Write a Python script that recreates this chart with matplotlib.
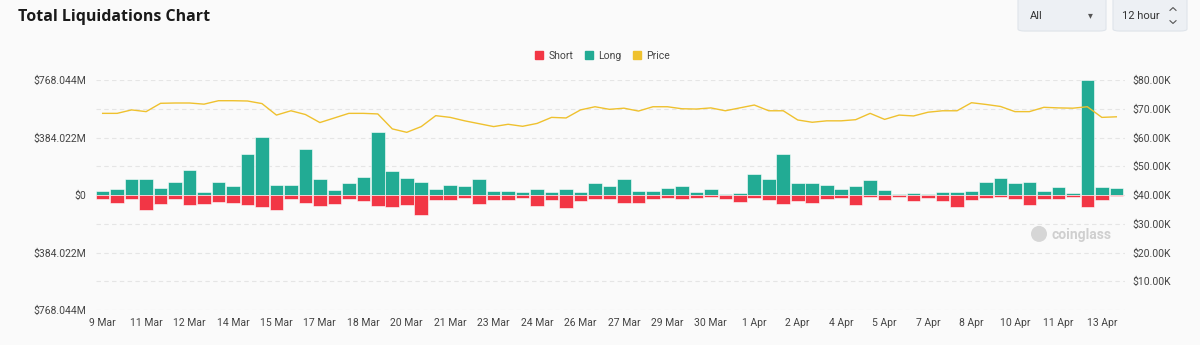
import matplotlib.pyplot as plt
from matplotlib.patches import Patch, FancyBboxPatch, Circle
from matplotlib.lines import Line2D
import numpy as np

plt.rcParams['text.parse_math'] = False
plt.rcParams['font.family'] = ['Roboto', 'DejaVu Sans']

# 12-hour buckets, 9 Mar -> 13 Apr
tick_labels = ['9 Mar', '11 Mar', '12 Mar', '14 Mar', '15 Mar', '17 Mar', '18 Mar', '20 Mar',
               '21 Mar', '23 Mar', '24 Mar', '26 Mar', '27 Mar', '29 Mar', '30 Mar', '1 Apr',
               '2 Apr', '4 Apr', '5 Apr', '7 Apr', '8 Apr', '10 Apr', '11 Apr', '13 Apr']

# liquidations in $M
long_liq = [26, 42, 104, 110, 49, 88, 166, 20, 86, 60,
            276, 387, 68, 64, 309, 108, 31, 77, 117, 418,
            161, 113, 88, 38, 68, 60, 108, 26, 26, 20,
            38, 22, 42, 22, 80, 57, 106, 29, 29, 46,
            57, 20, 42, 9, 15, 141, 110, 274, 80, 77,
            68, 38, 62, 99, 33, 9, 11, 9, 22, 22,
            29, 88, 115, 77, 84, 26, 51, 15, 768, 55,
            46]
short_liq = [24, 55, 24, 102, 62, 29, 68, 62, 44, 53,
             66, 80, 97, 29, 53, 75, 57, 29, 42, 71,
             80, 66, 133, 35, 35, 22, 57, 35, 31, 22,
             71, 31, 88, 40, 29, 24, 51, 51, 29, 18,
             24, 22, 13, 29, 46, 18, 35, 57, 40, 53,
             27, 22, 68, 15, 35, 13, 38, 22, 40, 80,
             35, 18, 15, 29, 68, 24, 24, 13, 80, 35,
             7]
# BTC price in $K
price = [68.4, 68.4, 69.6, 69.0, 71.9, 72.0, 72.0, 71.6, 72.8, 72.8,
         72.7, 71.8, 67.8, 69.3, 68.0, 65.2, 66.8, 68.4, 68.4, 68.2,
         63.0, 61.8, 63.8, 67.6, 67.0, 65.8, 64.8, 63.8, 64.6, 63.9,
         64.9, 67.0, 66.8, 69.6, 70.7, 69.8, 70.2, 69.2, 70.7, 70.7,
         70.0, 69.9, 70.3, 69.3, 70.3, 71.3, 69.3, 69.3, 66.1, 65.3,
         65.8, 65.8, 66.2, 68.4, 66.3, 67.8, 67.5, 68.8, 69.3, 69.3,
         72.1, 71.5, 70.8, 69.0, 69.0, 70.5, 70.3, 70.2, 70.7, 67.0,
         67.2]

BG = '#fafafa'
TEAL = '#22ab94'
RED = '#f23645'
GOLD = '#efc12e'
TXT = '#444444'
YMAX = 768.044

fig = plt.figure(figsize=(12, 3.45), dpi=100, facecolor=BG)
ax = fig.add_axes([0.08, 0.1014, 0.8575, 0.6667])
ax.set_facecolor(BG)

x = np.arange(len(long_liq))
ax.bar(x, long_liq, width=0.94, color=TEAL, edgecolor='white', linewidth=0.4, zorder=2)
ax.bar(x, -np.array(short_liq), width=0.94, color=RED, edgecolor='white', linewidth=0.4, zorder=2)

ax.set_xlim(-0.46, 70.6)
ax.set_ylim(-YMAX, YMAX)
ax.set_xticks(x[::3])
ax.set_xticklabels(tick_labels)
ax.set_yticks([-YMAX, -YMAX / 2, 0, YMAX / 2, YMAX])
ax.set_yticklabels(['$768.044M', '$384.022M', '$0', '$384.022M', '$768.044M'])
ax.set_yticks([-YMAX * 0.75, -YMAX * 0.25, YMAX * 0.25, YMAX * 0.75], minor=True)
ax.grid(True, axis='y', which='both', color='#e5e5e5', linestyle=(0, (4, 3)), linewidth=0.8, zorder=0)
ax.tick_params(axis='both', which='both', length=0, labelsize=7.5, labelcolor=TXT)
ax.tick_params(axis='x', pad=6)
ax.tick_params(axis='y', pad=7)
for s in ax.spines.values():
    s.set_visible(False)

ax2 = ax.twinx()
ax2.plot(x, price, color=GOLD, linewidth=1.0, zorder=3)
ax2.set_ylim(0, 80)
ax2.set_yticks(np.arange(10, 81, 10))
ax2.set_yticklabels([f'${v:.2f}K' for v in np.arange(10, 81, 10)])
ax2.tick_params(axis='y', length=0, labelsize=7.5, labelcolor=TXT, pad=5)
for s in ax2.spines.values():
    s.set_visible(False)

# legend
handles = [Patch(color=RED, label='Short'), Patch(color=TEAL, label='Long'), Patch(color=GOLD, label='Price')]
fig.legend(handles=handles, loc='center', bbox_to_anchor=(0.502, 0.838), ncol=3, frameon=False,
           fontsize=7.5, handlelength=0.8, handleheight=0.8, handletextpad=0.5, columnspacing=1.1,
           labelcolor=TXT)

# title
fig.text(0.015, 0.951, 'Total Liquidations Chart', fontsize=11.5, fontweight='bold',
         color='#1a1a1a', family=['Open Sans', 'DejaVu Sans'], va='center')

# selector boxes
for x0, x1 in [(1018, 1106), (1113, 1187)]:
    fig.patches.append(FancyBboxPatch((x0 / 1200, 0.91), (x1 - x0) / 1200, 0.12,
                                      boxstyle='round,pad=0,rounding_size=0.006',
                                      transform=fig.transFigure, facecolor='#edf0f4',
                                      edgecolor='#dfe4ea', linewidth=0.8))
fig.text(1030 / 1200, 0.955, 'All', fontsize=8, color='#333333', va='center')
fig.text(1090 / 1200, 0.955, '▾', fontsize=7, color='#555555', va='center', ha='center')
fig.text(1122 / 1200, 0.955, '12 hour', fontsize=8, color='#333333', va='center')
cx = 1173 / 1200
for yc, d in [(0.978, 1), (0.932, -1)]:
    fig.lines.append(Line2D([cx - 0.0025, cx, cx + 0.0025], [yc - d * 0.008, yc, yc - d * 0.008],
                            transform=fig.transFigure, color='#555555', linewidth=0.8))

# watermark (positions in inches so the logo stays round)
fig.patches.append(Circle((10.39, 0.322 * 3.45), 0.08, transform=fig.dpi_scale_trans,
                          facecolor='#d6d6d6', edgecolor='none'))
fig.text(1051 / 1200, 0.318, 'coinglass', fontsize=10, fontweight='bold', color='#cfcfcf',
         va='center')

fig.savefig('out.png', dpi=100, facecolor=BG)
